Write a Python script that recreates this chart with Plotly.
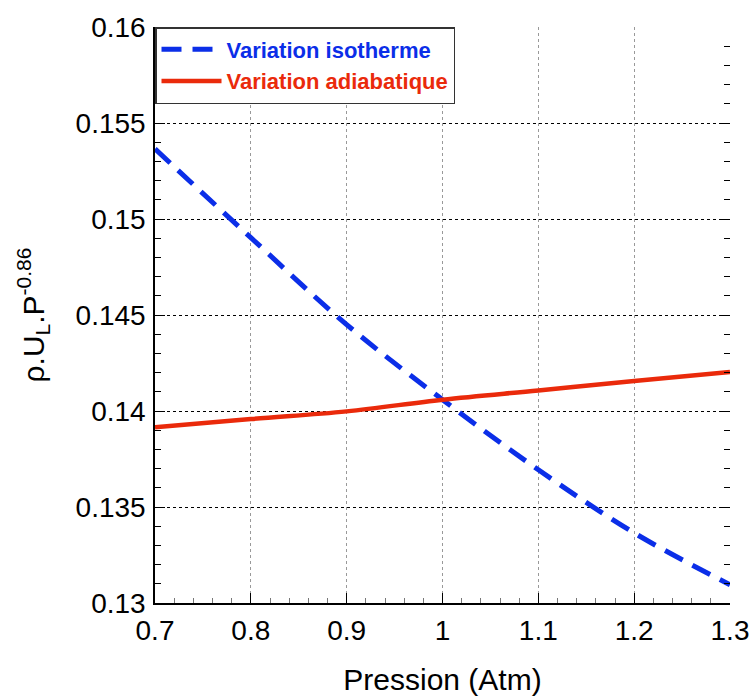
import plotly.graph_objects as go

pression = [0.7, 0.8, 0.9, 1.0, 1.1, 1.2, 1.3]
isotherme = [0.15365, 0.14903, 0.14450, 0.14059, 0.13694, 0.13365, 0.13095]
adiabatique = [0.13915, 0.13958, 0.13998, 0.14059, 0.14107, 0.14156, 0.14203]

x_tickvals = [0.7, 0.8, 0.9, 1.0, 1.1, 1.2, 1.3]
x_ticktext = ["0.7", "0.8", "0.9", "1", "1.1", "1.2", "1.3"]
y_tickvals = [0.13, 0.135, 0.14, 0.145, 0.15, 0.155, 0.16]
y_ticktext = ["0.13", "0.135", "0.14", "0.145", "0.15", "0.155", "0.16"]

BLUE = "#0b2ee8"
RED = "#ea2a0b"
FONT = "Liberation Sans, Arial, sans-serif"

fig = go.Figure()
fig.add_trace(go.Scatter(
    x=pression, y=isotherme, mode="lines", line_shape="spline",
    line=dict(color=BLUE, width=5, dash="20px,11px"),
    name=f"<b><span style='color:{BLUE}'>Variation isotherme</span></b>",
))
fig.add_trace(go.Scatter(
    x=pression, y=adiabatique, mode="lines", line_shape="spline",
    line=dict(color=RED, width=4.5),
    name=f"<b><span style='color:{RED}'>Variation adiabatique</span></b>",
))
# invisible trace to show the mirrored right-hand ticks
fig.add_trace(go.Scatter(x=[pression[0]], y=[y_tickvals[0]], yaxis="y2", mode="lines",
                         showlegend=False, hoverinfo="skip"))

fig.update_layout(
    width=754, height=699,
    margin=dict(l=155, r=24, t=27, b=96, autoexpand=False),
    paper_bgcolor="white", plot_bgcolor="white",
    font=dict(family=FONT, color="black"),
    showlegend=True,
    legend=dict(
        x=0, y=1, xanchor="left", yanchor="top",
        bgcolor="white", bordercolor="#333", borderwidth=1.5,
        font=dict(size=22, family=FONT), itemwidth=60,
    ),
    xaxis=dict(
        range=[0.7, 1.3], tickvals=x_tickvals, ticktext=x_ticktext,
        showline=True, linecolor="black", linewidth=1.5,
        ticks="inside", ticklen=10, tickcolor="black",
        minor=dict(dtick=0.02, ticks="inside", ticklen=5, tickcolor="#777", showgrid=False),
        showgrid=True, gridcolor="#999", griddash="dot", gridwidth=1,
        zeroline=False, automargin=False,
        tickfont=dict(size=28), ticklabelstandoff=2,
        title=dict(text="Pression (Atm)", font=dict(size=30), standoff=24),
    ),
    yaxis=dict(
        range=[0.13, 0.16], tickvals=y_tickvals, ticktext=y_ticktext,
        showline=True, linecolor="black", linewidth=1.5,
        ticks="inside", ticklen=10, tickcolor="black",
        minor=dict(dtick=0.001, ticks="inside", ticklen=6, tickcolor="black", showgrid=False),
        showgrid=True, gridcolor="black", griddash="dot", gridwidth=1,
        zeroline=False, automargin=False,
        tickfont=dict(size=28), ticklabelstandoff=2,
        title=dict(text="ρ.U<sub>L</sub>.P<sup>-0.86</sup>", font=dict(size=30), standoff=22),
    ),
    yaxis2=dict(
        overlaying="y", side="right", range=[0.13, 0.16], tickvals=y_tickvals,
        showticklabels=False, showline=False, showgrid=False, zeroline=False,
        automargin=False,
        ticks="inside", ticklen=10, tickcolor="black",
        minor=dict(dtick=0.001, ticks="inside", ticklen=6, tickcolor="black", showgrid=False),
    ),
)

fig.write_html(
    "out.html",
    config={"displayModeBar": False},
    post_script="document.body.style.margin='0px';document.body.style.padding='0px';",
)
